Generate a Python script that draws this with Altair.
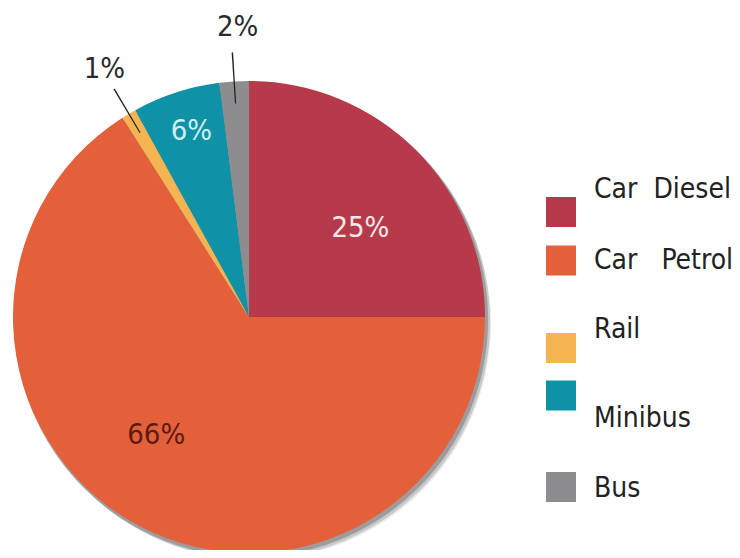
import altair as alt
import pandas as pd

# ---- data ----
categories = ["Car Diesel", "Car Petrol", "Rail", "Minibus", "Bus"]
shares = [25, 66, 1, 6, 2]
pct_labels = ["25%", "66%", "1%", "6%", "2%"]
legend_labels = ["Car\u00a0\u00a0Diesel", "Car\u00a0\u00a0\u00a0Petrol", "Rail", "Minibus", "Bus"]

# ---- style / layout ----
colors = ["#B73A4B", "#E3603A", "#F5B452", "#0F92A6", "#8D8C8E"]
FONT = "DejaVu Sans Condensed, Liberation Sans, sans-serif"
CX, CY, R = 241, 309, 236

df = pd.DataFrame({"cat": categories, "share": shares, "label": pct_labels,
                   "legend": legend_labels, "order": list(range(len(categories)))})

color_enc = alt.Color("cat:N", scale=alt.Scale(domain=categories, range=colors), legend=None)

base = alt.Chart(df).transform_joinaggregate(total="sum(share)").transform_window(
    cum="sum(share)", sort=[alt.SortField("order")], frame=[None, 0]
).transform_calculate(
    t0="2*PI*(datum.cum - datum.share)/datum.total",
    t1="2*PI*datum.cum/datum.total",
    mid="PI*(2*datum.cum - datum.share)/datum.total",
    l0="PI*(2*datum.cum - datum.share)/datum.total - 0.0028",
    l1="PI*(2*datum.cum - datum.share)/datum.total + 0.0028",
)

# shadow
shadow_df = pd.DataFrame({"a": [0]})
shadows = []
for off, op, rr in [((2, 3), 0.30, 237), ((4, 5), 0.20, 237), ((6, 7), 0.10, 236)]:
    shadows.append(
        alt.Chart(shadow_df).mark_arc(radius=rr, color="#3a3a3a", opacity=op,
                                      x=CX + off[0], y=CY + off[1])
        .encode(theta=alt.value(0), theta2=alt.value(6.2832))
    )

pie = base.mark_arc(radius=R, x=CX, y=CY).encode(
    theta=alt.Theta("t0:Q", scale=None), theta2="t1:Q", color=color_enc
)

# leader lines for small slices
leaders = base.transform_filter(
    alt.FieldOneOfPredicate(field="cat", oneOf=["Rail", "Bus"])
).mark_arc(radius=265, radius2=214, x=CX, y=CY, color="#222222").encode(
    theta=alt.Theta("l0:Q", scale=None), theta2="l1:Q"
)

label_specs = {
    "Car Diesel": dict(radius=142, dx=11, dy=11, color="#F6E8EA"),
    "Car Petrol": dict(radius=149, dx=-21, dy=-13, color="#5C1B12"),
    "Rail": dict(radius=288, dx=2, dy=0, color="#2a2a2a"),
    "Minibus": dict(radius=196, dx=3, dy=0, color="#CDEFF5"),
    "Bus": dict(radius=293, dx=7, dy=2, color="#2a2a2a"),
}
labels = []
for cat, sp in label_specs.items():
    labels.append(
        base.transform_filter(alt.datum.cat == cat).mark_text(
            x=CX, y=CY, radius=sp["radius"], dx=sp["dx"], dy=sp["dy"],
            color=sp["color"], font=FONT, fontSize=29, align="center", baseline="middle"
        ).encode(theta=alt.Theta("mid:Q", scale=None), text="label:N")
    )

# legend
square_y = [204, 252.5, 340, 387.5, 479]
text_y = [182, 253, 322, 411, 481]
legend_layers = []
for i, cat in enumerate(categories):
    legend_layers.append(
        alt.Chart(df).transform_filter(alt.datum.cat == cat).mark_square(
            size=900, x=553, y=square_y[i], opacity=1, filled=True
        ).encode(color=color_enc)
    )
    legend_layers.append(
        alt.Chart(df).transform_filter(alt.datum.cat == cat).mark_text(
            x=586, y=text_y[i], align="left", baseline="middle", font=FONT,
            fontSize=28, color="#222222"
        ).encode(text="legend:N")
    )

chart = alt.layer(*shadows, pie, leaders, *labels, *legend_layers).properties(
    width=724, height=542, padding=0, autosize=alt.AutoSizeParams(type="none")
).configure_view(stroke=None)

chart.save("out.html", embed_options={"renderer": "svg", "actions": False})
